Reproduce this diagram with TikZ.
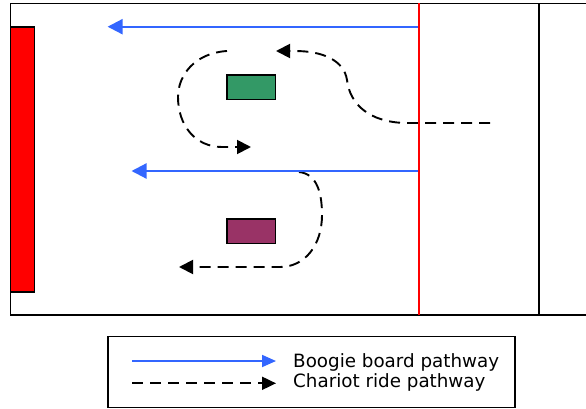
\documentclass[tikz,border=0pt]{standalone}
\usepackage{fontspec}
\setmainfont{DejaVu Sans}
\usetikzlibrary{arrows.meta}
\definecolor{bblue}{HTML}{3366FF}
\definecolor{fieldred}{HTML}{FF0000}
\definecolor{obgreen}{HTML}{339966}
\definecolor{obpurple}{HTML}{993366}
\begin{document}
\begin{tikzpicture}[x=1pt,y=-1pt,
  blueway/.style={draw=bblue, line width=2.2pt, -{Triangle[length=15pt,width=15pt]}},
  chariot/.style={draw=black, line width=1.9pt, dash pattern=on 11pt off 7pt, -{Triangle[length=14pt,width=14pt]}},
  obstacle/.style={draw=black, line width=1.5pt, minimum width=48.5pt, minimum height=24.5pt, inner sep=0pt},
  legendtext/.style={font=\fontsize{18.3}{20}\selectfont, anchor=base west, inner sep=0pt}]
\useasboundingbox (0,0) rectangle (586,409);
\clip (0,0) rectangle (586,409);
% field
\draw[line width=1.5pt] (600,3.3) -- (10.5,3.3) -- (10.5,315) -- (600,315);
\draw[line width=1.5pt] (539,3.3) -- (539,315);
\node[draw=black, fill=fieldred, line width=1.4pt, minimum width=24.3pt, minimum height=265pt, inner sep=0pt] (goal) at (22.6,159.5) {};
% obstacles
\node[obstacle, fill=obgreen] (green) at (251,87.2) {};
\node[obstacle, fill=obpurple] (purple) at (251,231.4) {};
% coordinates
\coordinate (b1s) at (419,26.7);
\coordinate (b1e) at (107.6,26.7);
\coordinate (b2s) at (419,171);
\coordinate (b2e) at (131.5,171);
\coordinate (c1s) at (490,123);
\coordinate (c1e) at (276,51);
\coordinate (c2s) at (227,51);
\coordinate (c2e) at (251,147);
\coordinate (c3s) at (299,172);
\coordinate (c3e) at (179,267);
% chariot paths
\draw[chariot] (c1s) -- (405,123) .. controls (370,122) and (350,105) .. (347,80) .. controls (344,60) and (322,51) .. (295,51) -- (c1e);
\draw[chariot] (c2s) .. controls (195,53) and (178,75) .. (178,97) .. controls (178,125) and (195,147) .. (222,147) -- (c2e);
\draw[chariot] (c3s) .. controls (318,174) and (322,195) .. (322,215) .. controls (322,245) and (305,267) .. (280,267) -- (c3e);
% boogie board paths
\draw[blueway] (b1s) -- (b1e);
\draw[blueway] (b2s) -- (b2e);
% red line
\draw[fieldred, line width=2.3pt] (419,3.3) -- (419,315);
% legend
\node[draw=black, line width=1.5pt, minimum width=407pt, minimum height=71pt, inner sep=0pt] (legend) at (311.5,372) {};
\coordinate (l1s) at (132,361);
\coordinate (l1e) at (276,361);
\coordinate (l2s) at (132,383.3);
\coordinate (l2e) at (276,383.3);
\draw[draw=bblue, line width=1.8pt, -{Triangle[length=14pt,width=12pt]}] (l1s) -- (l1e);
\draw[draw=black, line width=1.9pt, dash pattern=on 11pt off 7pt, -{Triangle[length=14pt,width=13pt]}] (l2s) -- (l2e);
\node[legendtext] (t1) at (293,367.3) {Boogie board pathway};
\node[legendtext] (t2) at (293,387.3) {Chariot ride pathway};
\end{tikzpicture}
\end{document}
